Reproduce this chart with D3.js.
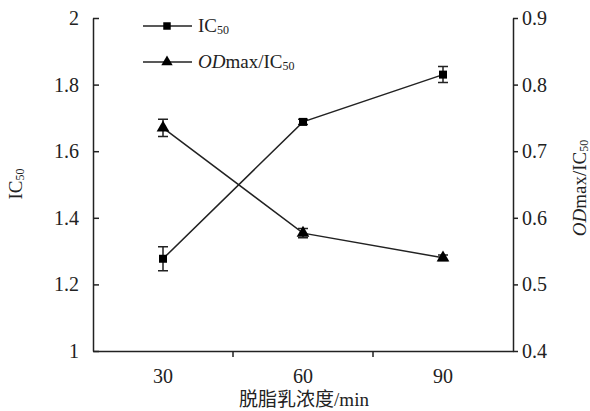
<!DOCTYPE html>
<html><head><meta charset="utf-8">
<script src="https://cdn.jsdelivr.net/npm/d3@7"></script>
<style>body{margin:0;background:#fff}svg{display:block}text{font-family:"Liberation Serif","Times New Roman",serif;fill:#222}</style>
</head><body>
<svg id="c" width="590" height="411"></svg>
<script>
const categories = ["30","60","90"];
const ic50 = [1.277, 1.688, 1.830];
const ic50Err = [0.036, 0.008, 0.024];
const ratio = [0.735, 0.577, 0.540];
const ratioErr = [0.013, 0.007, 0.004];
const leftTicks = [1, 1.2, 1.4, 1.6, 1.8, 2];
const rightTicks = [0.4, 0.5, 0.6, 0.7, 0.8, 0.9];

const svg = d3.select("#c");
const L = 93, R = 513, T = 18, B = 351;
const x = d3.scaleBand().domain(categories).range([L, R]);
const yL = d3.scaleLinear().domain([1, 2]).range([B, T]);
const yR = d3.scaleLinear().domain([0.4, 0.9]).range([B, T]);
const col = "#222";

// left axis
const gl = svg.append("g").attr("transform", `translate(${L},0)`)
  .call(d3.axisLeft(yL).tickValues(leftTicks).tickFormat(d3.format("~g")).tickSizeInner(-6).tickSizeOuter(0).tickPadding(14));
// right axis
const gr = svg.append("g").attr("transform", `translate(${R},0)`)
  .call(d3.axisRight(yR).tickValues(rightTicks).tickFormat(d3.format("~g")).tickSizeInner(5).tickSizeOuter(0).tickPadding(4));
// bottom axis
const gb = svg.append("g").attr("transform", `translate(0,${B})`)
  .call(d3.axisBottom(x).tickSize(0).tickPadding(18));
gb.selectAll(".tick").filter((d,i)=>i>0).append("line")
  .attr("x1", -x.bandwidth()/2).attr("x2", -x.bandwidth()/2).attr("y1", 0).attr("y2", 6)
  .attr("stroke", col).attr("stroke-width", 1.5);
[gl, gr, gb].forEach(g => {
  g.selectAll("path.domain").attr("stroke", col).attr("stroke-width", 1.5);
  g.selectAll(".tick line").attr("stroke", col).attr("stroke-width", 1.5);
  g.selectAll("text").style("font-size", "20px").attr("fill", col)
    .style("font-family", '"Liberation Serif",serif');
});

const cx = d => x(d) + x.bandwidth()/2;
const line = svg.append("g");
function series(vals, errs, y, marker) {
  line.append("path")
    .attr("d", d3.line().x((d,i)=>cx(categories[i])).y(d=>y(d))(vals))
    .attr("fill", "none").attr("stroke", col).attr("stroke-width", 1.5);
  vals.forEach((v,i) => {
    const px = cx(categories[i]);
    const y1 = y(v+errs[i]), y2 = y(v-errs[i]);
    line.append("path").attr("d", `M${px},${y1}V${y2}M${px-5},${y1}H${px+5}M${px-5},${y2}H${px+5}`)
      .attr("stroke", col).attr("stroke-width", 1.5).attr("fill","none");
    line.append("path").attr("transform", `translate(${px},${y(v)})`)
      .attr("d", d3.symbol().type(marker).size(marker===d3.symbolSquare?64:70)())
      .attr("fill", "#000");
  });
}
series(ic50, ic50Err, yL, d3.symbolSquare);
series(ratio, ratioErr, yR, d3.symbolTriangle);

// legend
const leg = [{m:d3.symbolSquare, y:26}, {m:d3.symbolTriangle, y:62}];
leg.forEach(l => {
  svg.append("line").attr("x1",143).attr("x2",192).attr("y1",l.y).attr("y2",l.y).attr("stroke",col).attr("stroke-width",1.5);
  svg.append("path").attr("transform",`translate(167,${l.y})`).attr("d", d3.symbol().type(l.m).size(56)()).attr("fill","#000");
});
function label(sel, italic) {
  if (italic) sel.append("tspan").text("OD").style("font-style","italic");
  sel.append("tspan").text(italic ? "max/IC" : "IC");
  sel.append("tspan").text("50").style("font-size","12px").attr("dy",2);
}
label(svg.append("text").attr("x",198).attr("y",32).style("font-size","19px"), false);
label(svg.append("text").attr("x",198).attr("y",68).style("font-size","19px"), true);

// axis titles
label(svg.append("text").attr("transform","translate(22,184) rotate(-90)").attr("text-anchor","middle").style("font-size","19px"), false);
label(svg.append("text").attr("transform","translate(586,188) rotate(-90)").attr("text-anchor","middle").style("font-size","19px"), true);

svg.append("text").attr("x",304).attr("y",406).attr("text-anchor","middle").style("font-size","19px")
  .style("font-family",'"Liberation Serif","Noto Sans CJK SC",serif').text("脱脂乳浓度/min");
</script>
</body></html>
